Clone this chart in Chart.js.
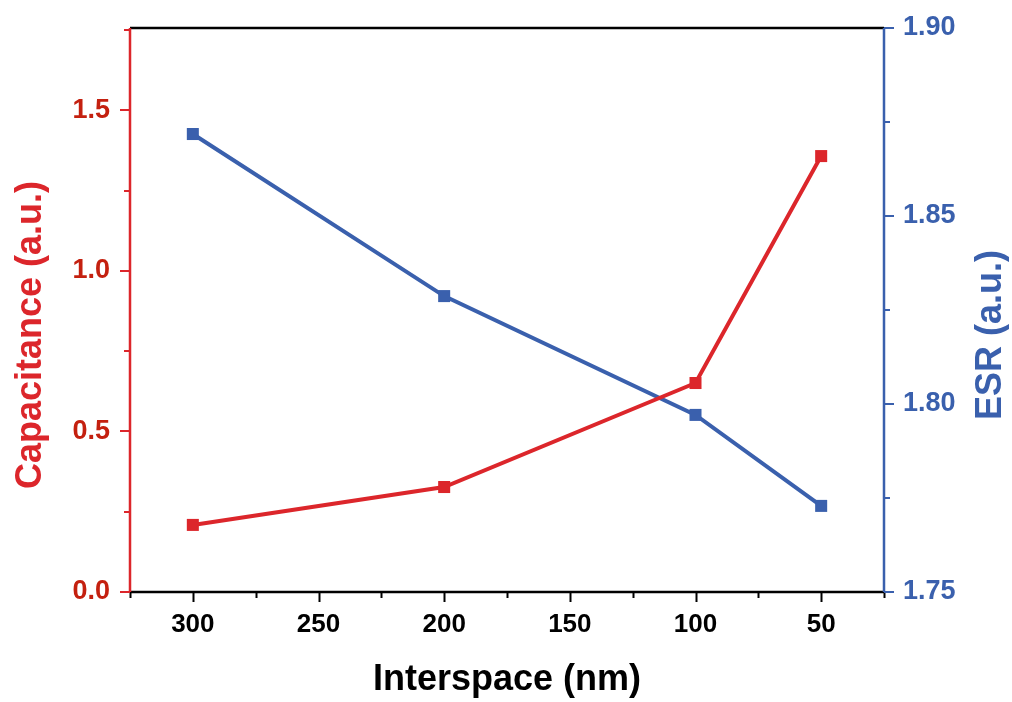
<!DOCTYPE html>
<html>
<head>
<meta charset="utf-8">
<script src="https://cdn.jsdelivr.net/npm/chart.js@4.4.1/dist/chart.umd.min.js"></script>
<style>
  html, body { margin: 0; padding: 0; background: #fff; }
  #wrap { width: 1012px; height: 702px; }
</style>
</head>
<body>
<div id="wrap"><canvas id="chart"></canvas></div>
<script>
// Interspace (nm) and the two measured quantities
const interspace = [300, 200, 100, 50];
const capacitance = [0.209, 0.327, 0.651, 1.358];
const esr = [1.8718, 1.8287, 1.7971, 1.7729];

const xTicks = [300, 250, 200, 150, 100, 50];
const capTicks = [0.0, 0.5, 1.0, 1.5];
const esrTicks = [1.75, 1.80, 1.85, 1.90];

const RED = "#dc262b";
const RED_TEXT = "#c4200f";
const BLUE = "#3a60ad";
const FONT = "'Liberation Sans', Arial, sans-serif";

// Major/minor outward ticks, the frame and the axis titles
const framePlugin = {
  id: "frameAndTitles",
  afterDraw(chart) {
    const ctx = chart.ctx;
    const area = chart.chartArea;
    const x = chart.scales.x, y = chart.scales.y, y1 = chart.scales.y1;
    ctx.save();
    ctx.lineWidth = 2;

    // bottom axis
    ctx.strokeStyle = "#000";
    for (let v = 325; v >= 25; v -= 25) {
      const px = Math.round(x.getPixelForValue(v)) + 0.5;
      const len = (v % 50 === 0) ? 10 : 6;
      ctx.beginPath();
      ctx.moveTo(px, area.bottom);
      ctx.lineTo(px, area.bottom + len);
      ctx.stroke();
    }

    // left axis
    ctx.strokeStyle = RED;
    for (let i = 0; i <= 7; i++) {
      const py = Math.round(y.getPixelForValue(i * 0.25));
      const len = (i % 2 === 0) ? 10 : 6;
      ctx.beginPath();
      ctx.moveTo(area.left, py);
      ctx.lineTo(area.left - len, py);
      ctx.stroke();
    }

    // right axis
    ctx.strokeStyle = BLUE;
    for (let i = 0; i <= 6; i++) {
      const py = Math.round(y1.getPixelForValue(1.75 + i * 0.025));
      const len = (i % 2 === 0) ? 10 : 6;
      ctx.beginPath();
      ctx.moveTo(area.right, py);
      ctx.lineTo(area.right + len, py);
      ctx.stroke();
    }

    // frame: black top and bottom, coloured sides
    ctx.lineWidth = 2.5;
    ctx.strokeStyle = "#000";
    ctx.beginPath();
    ctx.moveTo(area.left, area.top);
    ctx.lineTo(area.right, area.top);
    ctx.moveTo(area.left, area.bottom);
    ctx.lineTo(area.right, area.bottom);
    ctx.stroke();
    ctx.strokeStyle = RED;
    ctx.beginPath();
    ctx.moveTo(area.left, area.top);
    ctx.lineTo(area.left, area.bottom);
    ctx.stroke();
    ctx.strokeStyle = BLUE;
    ctx.beginPath();
    ctx.moveTo(area.right, area.top);
    ctx.lineTo(area.right, area.bottom);
    ctx.stroke();

    // axis titles
    ctx.font = "bold 36px " + FONT;
    ctx.textAlign = "center";
    ctx.textBaseline = "alphabetic";
    ctx.fillStyle = "#000";
    ctx.fillText("Interspace (nm)", (area.left + area.right) / 2, 690);

    const midY = (area.top + area.bottom) / 2 + 25;
    ctx.save();
    ctx.translate(41, midY);
    ctx.rotate(-Math.PI / 2);
    ctx.fillStyle = RED;
    ctx.fillText("Capacitance (a.u.)", 0, 0);
    ctx.restore();

    ctx.save();
    ctx.translate(1001, midY);
    ctx.rotate(-Math.PI / 2);
    ctx.fillStyle = BLUE;
    ctx.fillText("ESR (a.u.)", 0, 0);
    ctx.restore();

    ctx.restore();
  }
};

// fixed axis boxes so the plot area sits where it should
function fixVertical(width) {
  return (s) => {
    s.width = width;
    s.paddingTop = 0;
    s.paddingBottom = 0;
  };
}

new Chart(document.getElementById("chart"), {
  type: "line",
  data: {
    datasets: [
      {
        label: "Capacitance",
        data: interspace.map((v, i) => ({x: v, y: capacitance[i]})),
        borderColor: RED,
        backgroundColor: RED,
        borderWidth: 4,
        pointStyle: "rect",
        pointRadius: 8.5,
        pointBorderWidth: 0,
        yAxisID: "y"
      },
      {
        label: "ESR",
        data: interspace.map((v, i) => ({x: v, y: esr[i]})),
        borderColor: BLUE,
        backgroundColor: BLUE,
        borderWidth: 4,
        pointStyle: "rect",
        pointRadius: 8.5,
        pointBorderWidth: 0,
        yAxisID: "y1"
      }
    ]
  },
  options: {
    responsive: true,
    maintainAspectRatio: false,
    animation: false,
    layout: {padding: {top: 28, left: 0, right: 0, bottom: 0}},
    plugins: {legend: {display: false}, tooltip: {enabled: false}},
    scales: {
      x: {
        type: "linear",
        reverse: true,
        min: 25,
        max: 325,
        afterBuildTicks: (s) => { s.ticks = xTicks.map(v => ({value: v})); },
        afterFit: (s) => { s.height = 110; s.paddingLeft = 0; s.paddingRight = 0; },
        border: {display: false},
        grid: {display: false, drawTicks: false},
        ticks: {
          padding: 17,
          color: "#000",
          font: {family: FONT, size: 26, weight: "bold"}
        }
      },
      y: {
        position: "left",
        min: 0,
        max: 1.757,
        afterBuildTicks: (s) => { s.ticks = capTicks.map(v => ({value: v})); },
        afterFit: fixVertical(130),
        border: {display: false},
        grid: {display: false, drawTicks: false},
        ticks: {
          padding: 20,
          color: RED_TEXT,
          callback: (v) => v.toFixed(1),
          font: {family: FONT, size: 27, weight: "bold"}
        }
      },
      y1: {
        position: "right",
        min: 1.75,
        max: 1.90,
        afterBuildTicks: (s) => { s.ticks = esrTicks.map(v => ({value: v})); },
        afterFit: fixVertical(128),
        border: {display: false},
        grid: {display: false, drawTicks: false},
        ticks: {
          padding: 19,
          color: BLUE,
          callback: (v) => v.toFixed(2),
          font: {family: FONT, size: 27, weight: "bold"}
        }
      }
    }
  },
  plugins: [framePlugin]
});
</script>
</body>
</html>
